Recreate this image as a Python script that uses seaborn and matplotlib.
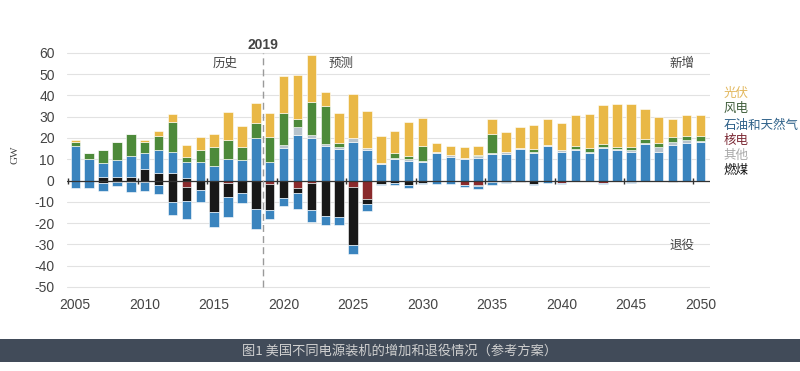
import numpy as np
import pandas as pd
import matplotlib
matplotlib.use('agg')
import matplotlib.pyplot as plt
from matplotlib.patches import Rectangle
import seaborn as sns

years = list(range(2005, 2051))

# 新增 (GW)
coal_add = [0, 0, 1.5, 1.5, 1.8, 5.3, 3.7, 3.4, 1.0, 0, 0, 0, 0, 0, 0,
            0, 0, 0, 0, 0, 0, 0, 0, 0, 0, 0, 0, 0, 0, 0,
            0, 0, 0, 0, 0, 0, 0, 0, 0, 0, 0, 0, 0, 0, 0, 0]
gas_add = [16.2, 10, 6.9, 8.2, 9.8, 7.5, 10.4, 10.2, 7.9, 8.9, 6.9, 10, 9.7, 19.8, 8.6,
           15.5, 21.4, 19.8, 16.2, 14.7, 18.3, 14.4, 7.7, 10, 9.4, 8.6, 12.8, 11.2, 10, 10.8,
           12.5, 12.5, 14.8, 12.8, 16.2, 13.6, 14.1, 12.8, 15.2, 14.1, 13.3, 17.2, 13.6, 16.7, 17.5, 18]
other_add = [0, 0, 0, 0, 0, 0, 0, 0, 0, 0, 0, 0, 0, 0, 0,
             1.2, 3.6, 1.6, 0.9, 0.9, 1.5, 0.8, 0.7, 0.5, 0.6, 0.8, 0.6, 0.6, 0.5, 0.8,
             0.3, 0.8, 0.7, 0.5, 0.3, 0.5, 0.5, 0.8, 0.5, 0.5, 0.8, 0.6, 2.0, 1.6, 1.6, 0.6]
wind_add = [2.0, 2.8, 6.0, 8.6, 10.3, 5.5, 7.0, 14.1, 2.0, 5.2, 8.7, 9.1, 6.2, 7.1, 12.0,
            14.9, 3.7, 15.6, 17.8, 2.2, 0, 0, 0, 2.6, 1.7, 7.0, 0, 0, 0, 0.6,
            8.9, 0, 0, 1.6, 0, 0, 1.5, 1.6, 1.5, 1.1, 1.8, 1.6, 1.9, 2.0, 2.0, 2.3]
solar_add = [0.8, 0, 0, 0, 0, 0.7, 2.3, 3.6, 5.7, 6.2, 6.3, 12.9, 9.9, 9.7, 11.3,
             17.6, 20.8, 21.9, 6.7, 14.1, 20.7, 17.6, 12.7, 10.2, 16.0, 12.8, 4.4, 4.4, 5.3, 4.0,
             7.0, 9.7, 9.5, 11.4, 12.2, 12.8, 14.7, 16.0, 18.3, 20.3, 20.0, 14.0, 12.5, 8.7, 9.7, 10.0]

# 退役 (GW)
nuclear_ret = [0, 0, 0, 0, 0, 0, 0, 0, -3.1, 0, 0, -1.0, 0, 0, -1.5,
               0, -3.6, -1.0, 0, 0, -3.1, -8.7, 0, 0, 0, 0, 0, 0, -2.0, -2.0,
               0, 0, 0, 0, 0, -1.2, 0, 0, -1.2, 0, 0, 0, 0, 0, -0.5, 0]
coal_ret = [0, 0, -1.0, -0.8, -0.7, -0.9, -2.3, -10.2, -6.3, -4.4, -14.8, -6.8, -5.9, -13.4, -12.2,
            -8.3, -2.3, -13.0, -16.9, -17.2, -27.4, -2.2, -1.6, -1.2, -2.3, -1.0, 0, 0, 0, -0.8,
            -0.5, -0.5, -0.5, -1.6, 0, 0, 0, 0, 0, 0, -0.8, 0, 0, -0.6, 0, 0]
gas_ret = [-3.7, -3.3, -3.7, -1.8, -4.8, -4.1, -4.0, -5.9, -8.6, -5.8, -7.1, -9.4, -4.7, -9.3, -4.4,
           -3.9, -7.4, -5.7, -3.9, -3.9, -3.9, -3.2, -0.7, -0.8, -1.3, -0.5, -1.5, -1.8, -1.1, -1.2,
           -1.5, -0.5, -0.3, -0.4, -1.0, -0.3, -0.3, -0.3, -0.3, -0.3, -0.3, -0.3, -0.3, -0.3, -0.3, -0.3]

colors = {'光伏': '#e9b846', '风电': '#4d8a3a', '石油和天然气': '#3a84be',
          '核电': '#8a2a2c', '其他': '#b7c3cb', '燃煤': '#181818'}


def long_frame(series):
    parts = [pd.DataFrame({'year': years, 'type': name, 'gw': vals}) for name, vals in series]
    return pd.concat(parts, ignore_index=True)


add_df = long_frame([('光伏', solar_add), ('风电', wind_add), ('其他', other_add),
                     ('石油和天然气', gas_add), ('燃煤', coal_add)])
ret_df = long_frame([('石油和天然气', gas_ret), ('燃煤', coal_ret), ('核电', nuclear_ret)])

sns.set_style("whitegrid")
plt.rcParams['font.family'] = ['Liberation Sans', 'Noto Sans CJK SC']
plt.rcParams['axes.unicode_minus'] = False

fig = plt.figure(figsize=(8, 3.71), dpi=100)
ax = fig.add_axes([0.084, 0.215, 0.804, 0.66])

# seaborn stacks the last hue level at the baseline
sns.histplot(data=add_df, x='year', weights='gw', hue='type',
             hue_order=['光伏', '风电', '其他', '石油和天然气', '燃煤'],
             palette=colors, multiple='stack', discrete=True, shrink=0.68,
             edgecolor='white', linewidth=0.4, alpha=1, legend=False, ax=ax)
sns.histplot(data=ret_df, x='year', weights='gw', hue='type',
             hue_order=['石油和天然气', '燃煤', '核电'],
             palette=colors, multiple='stack', discrete=True, shrink=0.68,
             edgecolor='white', linewidth=0.4, alpha=1, legend=False, ax=ax)

ax.set_xlim(2004.42, 2050.72)
ax.set_ylim(-52, 63)
ax.set_yticks(range(-50, 61, 10))
ax.set_xticks(range(2005, 2051, 5))
ax.set_xlabel('')
ax.set_ylabel('')
ax.grid(axis='x', visible=False)
ax.grid(axis='y', color='#e2e2e2', linewidth=0.8)
for s in ax.spines.values():
    s.set_visible(False)
ax.tick_params(axis='both', length=0, labelsize=10, labelcolor='#444444')
ax.tick_params(axis='y', pad=9)
ax.tick_params(axis='x', pad=5)

# zero line with small marks between 5-year groups
ax.axhline(0, color='#333333', linewidth=0.9, zorder=3)
marks = np.arange(2004.5, 2050, 5)
ax.plot(marks, np.zeros_like(marks), linestyle='none', marker='|',
        markersize=5, color='#333333', zorder=3)

# history / projection divider
lo, hi = ax.get_ylim()
ax.axvline(2018.5, ymin=(-50 - lo) / (hi - lo), ymax=(60 - lo) / (hi - lo),
           color='#9a9a9a', linestyle=(0, (5, 3)), linewidth=1, zorder=4)
ax.text(2018.5, 63.6, '2019', ha='center', va='center', fontsize=10,
        fontweight='bold', color='#444444', clip_on=False)

cjk = ['Noto Sans CJK SC', 'DejaVu Sans']
ax.text(2015.8, 55, '历史', ha='center', va='center', fontsize=9, color='#444444', family=cjk)
ax.text(2024.1, 55, '预测', ha='center', va='center', fontsize=9, color='#444444', family=cjk)
ax.text(2048.7, 55, '新增', ha='center', va='center', fontsize=9, color='#444444', family=cjk)
ax.text(2048.7, -30.5, '退役', ha='center', va='center', fontsize=9, color='#444444', family=cjk)

fig.text(0.019, 0.582, 'GW', rotation=90, ha='center', va='center', fontsize=8,
         color='#444444', family='Liberation Serif')

# legend as coloured text
legend_rows = [('光伏', '#e2b75c', 93), ('风电', '#3f5d3a', 108), ('石油和天然气', '#2f6189', 125),
               ('核电', '#7c2a35', 140), ('其他', '#a9a9a9', 155), ('燃煤', '#151515', 171)]
for label, c, ypx in legend_rows:
    fig.text(0.904, 1 - ypx / 371, label, ha='left', va='center', fontsize=9,
             color=c, family=cjk)

# caption band
fig.patches.append(Rectangle((0, 0.024), 1, 0.062, transform=fig.transFigure,
                             facecolor='#414b59', edgecolor='none', zorder=0))
fig.text(0.5, 0.055, '图1 美国不同电源装机的增加和退役情况（参考方案）', ha='center', va='center',
         fontsize=9.5, color='#d0d0d0', family=cjk)

fig.savefig('out.png', dpi=100)
